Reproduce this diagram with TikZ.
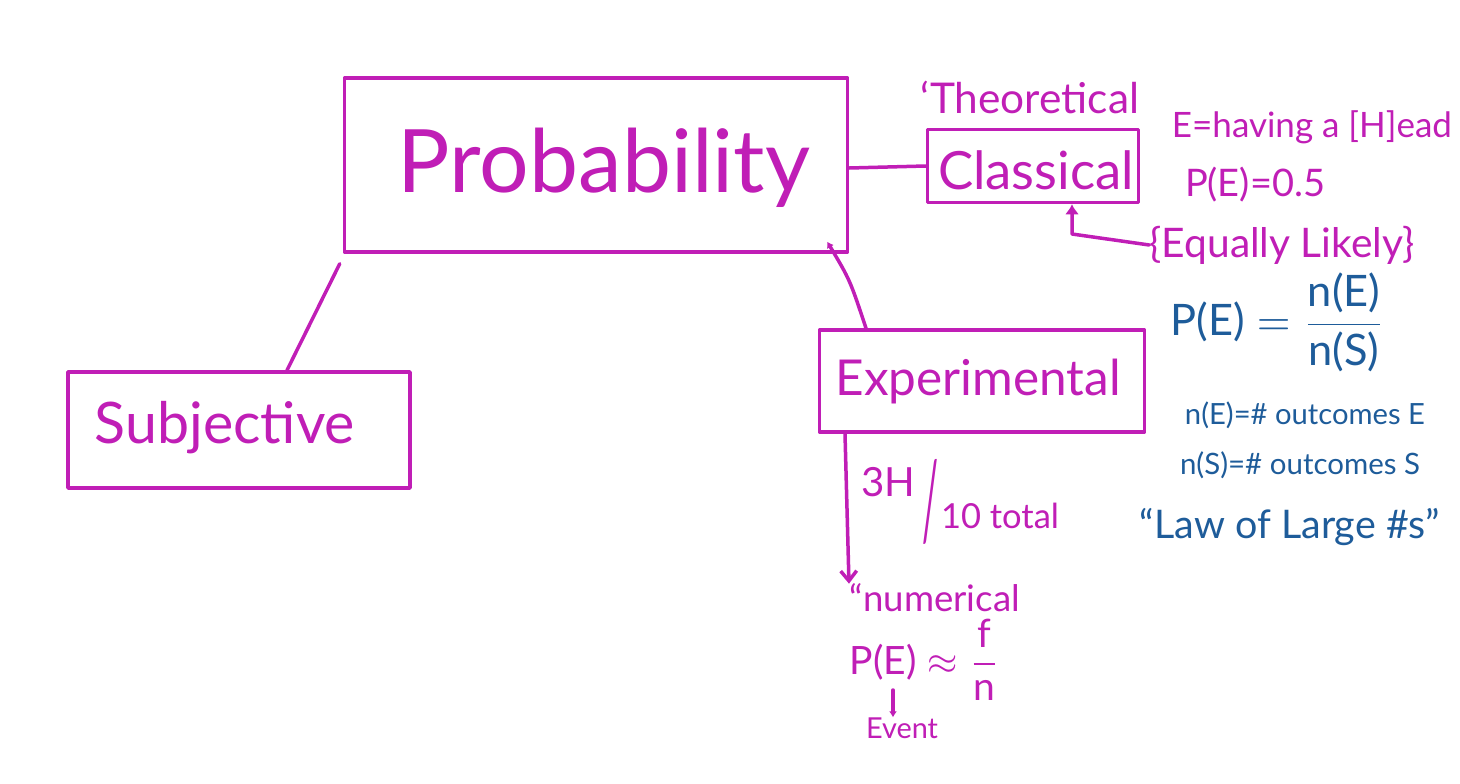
\documentclass[tikz,border=0pt]{standalone}
\usepackage{graphicx}
\usepackage{fontspec}
\setmainfont{Lato}
\usetikzlibrary{arrows.meta}
\definecolor{mag}{RGB}{192,30,182}
\definecolor{inkblue}{RGB}{30,92,154}
\newcommand\fitw[2]{\resizebox{#1pt}{!}{#2}}
\begin{document}
\begin{tikzpicture}[x=1pt,y=-1pt,
  ink/.style={draw=mag,line width=3.5pt,line cap=round,line join=round},
  boxnode/.style={ink,rectangle,inner sep=0pt},
  txt/.style={text=mag,inner sep=0pt,anchor=center},
  btxt/.style={text=inkblue,inner sep=0pt,anchor=center},
  conn/.style={ink}
]
\useasboundingbox[fill=white] (0,0) rectangle (1460,784);

% boxes
\node[boxnode,minimum width=503pt,minimum height=174pt] (prob) at (596,165) {};
\node[txt] (probt) at (604,168) {\fitw{412}{Probability}};

\node[boxnode,minimum width=211pt,minimum height=73pt] (class) at (1033,166) {};
\node[txt] (classt) at (1036,170) {\fitw{196}{Classical}};

\node[boxnode,minimum width=325pt,minimum height=102pt] (exp) at (982,381) {};
\node[txt] (expt) at (978,382) {\fitw{285}{Experimental}};

\node[boxnode,minimum width=342pt,minimum height=116pt] (subj) at (239,430) {};
\node[txt] (subjt) at (225,428) {\fitw{260}{Subjective}};

% texts right top
\node[txt] (theo) at (1030,97) {\fitw{218}{‘Theoretical}};
\node[txt] (ehead) at (1312,127) {\fitw{280}{E=having a [H]ead}};
\node[txt] (pe05) at (1255,185) {\fitw{140}{P(E)=0.5}};
\node[txt] (eqlik) at (1282,245) {\fitw{265}{\{Equally Likely\}}};

% blue texts
\node[btxt] (pfrac) at (1278,322) {\fitw{215}{$\mbox{P(E)}=\displaystyle\frac{\mbox{n(E)}}{\mbox{n(S)}}$}};
\node[btxt] (ne) at (1305,415) {\fitw{240}{n(E)=\# outcomes E}};
\node[btxt] (ns) at (1300,465) {\fitw{240}{n(S)=\# outcomes S}};
\node[btxt] (law) at (1290,527) {\fitw{300}{“Law of Large \#s”}};

% bottom texts
\node[txt] (threeh) at (888,482) {\fitw{54}{3H}};
\node[txt] (slash) at (930,502) {\resizebox{16pt}{80pt}{/}};
\node[txt] (tentot) at (1000,516) {\fitw{118}{10 total}};
\node[txt] (numer) at (935,598) {\fitw{170}{“numerical}};
\node[txt] (pfn) at (925,660) {\fitw{150}{$\mbox{P(E)}\approx\displaystyle\frac{\mbox{f}}{\mbox{n}}$}};
\node[txt] (event) at (902,728) {\fitw{72}{Event}};
\coordinate (eunder) at (893,690);

% connectors
\draw[conn] (prob.east |- 0,168) -- (class.west |- 0,166);
\draw[conn] (prob.south west) ++(-3,10) coordinate (pl) (pl) -- (subj.north -| 287,0) coordinate (sj);
\draw[conn,{Latex[length=6pt,width=8pt]}-] (prob.south east) ++(-22,-12) coordinate (pr) (pr) .. controls (850,280) .. (exp.north -| 866,0);
\draw[conn,-{Latex[length=10pt,width=14pt]}] (eqlik.west) -- (1072,234) -- (class.south -| 1072,0);
\draw[conn,-{Straight Barb[length=10pt,width=16pt]}] (exp.south -| 845,0) -- (numer.north west -| 849,0);
\draw[conn,-{Latex[length=6pt,width=8pt]}] (eunder) -- (event.north -| 893,0);
\end{tikzpicture}
\end{document}
